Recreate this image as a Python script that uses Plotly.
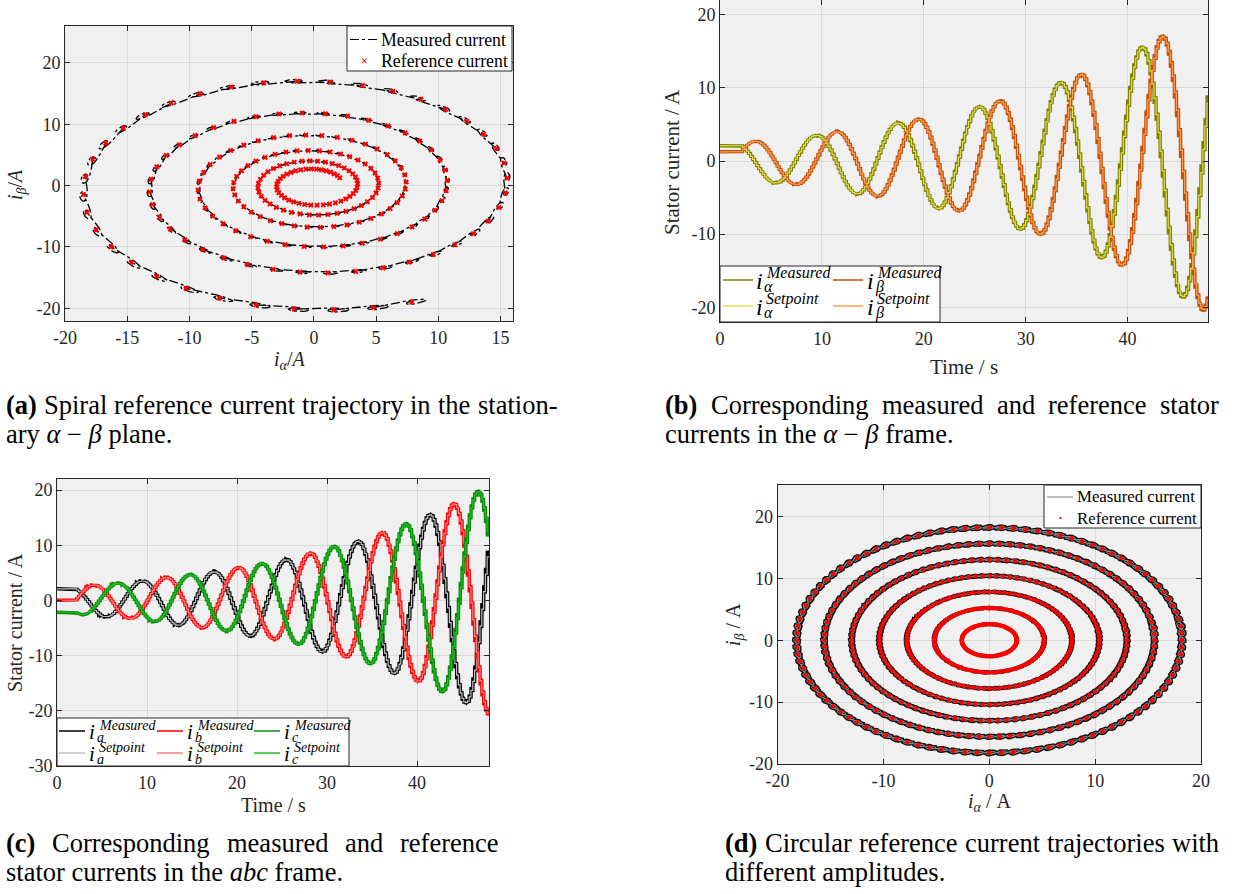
import numpy as np
import plotly.graph_objects as go

W, H = 1236, 894
SERIF = "Liberation Serif"
AX_COLOR = "#262626"

# ---------------- spiral setpoint (panels a, b, c) ----------------
hold_alpha, hold_beta = 2.1, 1.25      # setpoint held before the spiral starts (A)
spiral_start, spiral_end = 2.0, 47.8   # s
sim_end = 48.0
step_period = 0.2                      # setpoint update interval (s)
rev_period = 8.0                       # one revolution (s)
alpha_peak_time = 1.3                  # phase reference: i_alpha maximum (s)

# spiral radius at successive quarter turns (A)
quarter_times = [2.0, 3.3, 5.3, 7.3, 9.3, 11.3, 13.3, 15.3, 17.3, 19.3, 21.3, 23.3,
                 25.3, 27.3, 29.3, 31.3, 33.3, 35.3, 37.3, 39.3, 41.3, 43.3, 45.3, 47.3, 48.0]
quarter_radius = [2.44, 2.7, 3.0, 3.2, 3.5, 4.0, 4.5, 4.8, 5.2, 5.7, 6.5, 6.8,
                  7.4, 8.2, 9.3, 10.0, 10.7, 11.8, 13.2, 14.2, 15.5, 17.0, 18.5, 20.3, 20.7]

# ---------------- circular setpoints (panel d) ----------------
ring_radius = [2.6, 5.2, 7.8, 10.4, 13.0, 15.6, 18.2]
points_per_rev = 100

dt = 0.002


def spiral_setpoint(tt):
    r = np.exp(np.interp(tt, quarter_times, np.log(quarter_radius)))
    th = 2 * np.pi * (tt - alpha_peak_time) / rev_period
    a = np.where(tt < spiral_start, hold_alpha, r * np.cos(th))
    b = np.where(tt < spiral_start, hold_beta, r * np.sin(th))
    return a, b


def track(u, wn, z, phi, h):
    """Cross-coupled second-order current loop following a stepped
    reference u (complex alpha + j*beta)."""
    out = np.empty_like(u)
    gain = wn * wn * np.exp(1j * phi)
    pos, vel = u[0], 0j
    for i, ui in enumerate(u):
        acc = gain * (ui - pos) - 2 * z * wn * vel
        vel += acc * h
        pos += vel * h
        out[i] = pos
    return out


# reference update instants and values
n_steps = int(round((spiral_end - spiral_start) / step_period)) + 1
t_ref = spiral_start + step_period * np.arange(n_steps)
a_ref, b_ref = spiral_setpoint(t_ref)

# stepped reference on the simulation grid
t = np.arange(0.0, sim_end + dt / 2, dt)
idx = np.clip(np.floor((t - spiral_start) / step_period + 1e-9).astype(int), 0, n_steps - 1)
a_set = np.where(t < spiral_start, hold_alpha, a_ref[idx])
b_set = np.where(t < spiral_start, hold_beta, b_ref[idx])
z_meas = track(a_set + 1j * b_set, 150.0, 0.3, 0.15, dt)
a_meas, b_meas = z_meas.real, z_meas.imag

s3 = np.sqrt(3) / 2
abc_set = [a_set, -0.5 * a_set + s3 * b_set, -0.5 * a_set - s3 * b_set]
abc_meas = [a_meas, -0.5 * a_meas + s3 * b_meas, -0.5 * a_meas - s3 * b_meas]

dec = 2
td = t[::dec]

fig = go.Figure()

# ---------------- (a) spiral in the alpha-beta plane ----------------
fig.add_trace(go.Scatter(x=a_meas, y=b_meas, mode="lines", xaxis="x", yaxis="y",
                         line=dict(color="black", width=1.3, dash="dashdot"), showlegend=False))
fig.add_trace(go.Scatter(x=a_ref, y=b_ref, mode="markers", xaxis="x", yaxis="y",
                         marker=dict(symbol="x", size=5, color="red", line=dict(width=0)),
                         showlegend=False))

# ---------------- (b) alpha / beta over time ----------------
ab_colors = [("#7f7f00", "#e0e050"), ("#c0500a", "#ffa050")]
for meas, (cm, cs) in zip([a_meas, b_meas], ab_colors):
    fig.add_trace(go.Scatter(x=td, y=meas[::dec], mode="lines", xaxis="x2", yaxis="y2",
                             line=dict(color=cm, width=3.5), showlegend=False))
for sp, (cm, cs) in zip([a_set, b_set], ab_colors):
    fig.add_trace(go.Scatter(x=td, y=sp[::dec], mode="lines", xaxis="x2", yaxis="y2",
                             line=dict(color=cs, width=1.2), showlegend=False))

# ---------------- (c) abc over time ----------------
abc_colors = [("#000000", "#c0c0c0"), ("#ff0000", "#ff8080"), ("#0a8a0a", "#20c020")]
for k in range(3):
    cm, cs = abc_colors[k]
    fig.add_trace(go.Scatter(x=td, y=abc_meas[k][::dec], mode="lines", xaxis="x3", yaxis="y3",
                             line=dict(color=cm, width=3.5), showlegend=False))
    fig.add_trace(go.Scatter(x=td, y=abc_set[k][::dec], mode="lines", xaxis="x3", yaxis="y3",
                             line=dict(color=cs, width=1.2), showlegend=False))

# ---------------- (d) circular trajectories ----------------
sub = 20
for r in ring_radius:
    ang = 2 * np.pi * np.arange(points_per_rev + 1) / points_per_rev
    ring = r * np.exp(1j * ang)
    m = track(np.repeat(ring, sub), 260.0, 0.2, 0.25, dt)
    fig.add_trace(go.Scatter(x=m.real, y=m.imag, mode="lines", xaxis="x4", yaxis="y4",
                             line=dict(color="#111111", width=3.8), showlegend=False))
    fig.add_trace(go.Scatter(x=m.real, y=m.imag, mode="lines", xaxis="x4", yaxis="y4",
                             line=dict(color="#8c8c8c", width=1), showlegend=False))
for r in ring_radius:
    ang = 2 * np.pi * np.arange(points_per_rev) / points_per_rev
    fig.add_trace(go.Scatter(x=r * np.cos(ang), y=r * np.sin(ang), mode="markers",
                             xaxis="x4", yaxis="y4",
                             marker=dict(symbol="circle", size=4.5, color="red", line=dict(width=0)),
                             showlegend=False))


def px(x):
    return x / W


def py(y):
    return 1 - y / H


def axis(dom, rng, vals, anchor):
    return dict(domain=dom, range=rng, anchor=anchor, showgrid=True, gridcolor="#d9d9d9",
                gridwidth=1, zeroline=False, showline=True, linecolor=AX_COLOR, linewidth=1,
                mirror="allticks", ticks="inside", ticklen=5, tickcolor=AX_COLOR,
                automargin=False, tickvals=vals, ticktext=[str(v) for v in vals],
                tickfont=dict(family=SERIF, size=18, color=AX_COLOR))


fig.update_layout(
    width=W, height=H, margin=dict(l=0, r=0, t=0, b=0, autoexpand=False),
    paper_bgcolor="white", plot_bgcolor="#f0f0f0", showlegend=False,
    xaxis=axis([px(65), px(513)], [-20, 16.0], [-20, -15, -10, -5, 0, 5, 10, 15], "y"),
    yaxis=axis([py(321), py(26)], [-22.07, 26], [-20, -10, 0, 10, 20], "x"),
    xaxis2=axis([px(720), px(1208)], [0, 47.9], [0, 10, 20, 30, 40], "y2"),
    yaxis2=axis([py(322), py(0)], [-22, 22], [-20, -10, 0, 10, 20], "x2"),
    xaxis3=axis([px(57), px(489)], [0, 48], [0, 10, 20, 30, 40], "y3"),
    yaxis3=axis([py(766), py(479)], [-30, 22], [-30, -20, -10, 0, 10, 20], "x3"),
    xaxis4=axis([px(777.6), px(1201)], [-20, 20], [-20, -10, 0, 10, 20], "y4"),
    yaxis4=axis([py(764), py(485)], [-20, 25.07], [-20, -10, 0, 10, 20], "x4"),
)

ann = []
shapes = []


def text(x, y, s, size=20, anchor="center", angle=0, color=AX_COLOR):
    ann.append(dict(x=px(x), y=py(y), xref="paper", yref="paper", text=s, showarrow=False,
                    xanchor=anchor, yanchor="middle", textangle=angle, borderpad=0,
                    font=dict(family=SERIF, size=size, color=color)))


def box(x0, y0, x1, y1):
    shapes.append(dict(type="rect", xref="paper", yref="paper", x0=px(x0), x1=px(x1),
                       y0=py(y1), y1=py(y0), fillcolor="white", layer="above",
                       line=dict(color=AX_COLOR, width=1)))


def sample(x0, x1, y, color, width=1.5, dash="solid"):
    shapes.append(dict(type="line", xref="paper", yref="paper", x0=px(x0), x1=px(x1),
                       y0=py(y), y1=py(y), layer="above",
                       line=dict(color=color, width=width, dash=dash)))


def sym(x, y, sub_s, sup_s, big, small, dy):
    text(x, y + 1, "<i>i</i>", size=big, anchor="left", color="black")
    text(x + 10, y - dy, "<i>" + sup_s + "</i>", size=small, anchor="left", color="black")
    text(x + 8, y + dy, "<i>" + sub_s + "</i>", size=small, anchor="left", color="black")


# Times-compatible advance widths (1/1000 em) for spacing justified caption lines
ADV = {' ': 250, '(': 333, ')': 333, '-': 333, '.': 250, 'a': 444, 'b': 500, 'c': 444,
       'd': 500, 'e': 444, 'f': 333, 'g': 500, 'h': 500, 'i': 278, 'j': 278, 'k': 500,
       'l': 278, 'm': 778, 'n': 500, 'o': 500, 'p': 500, 'q': 500, 'r': 333, 's': 389,
       't': 278, 'u': 500, 'v': 500, 'w': 722, 'x': 500, 'y': 500, 'z': 444, 'C': 667, 'S': 556}
ADV_B = {'(': 333, ')': 333, 'a': 500, 'b': 556, 'c': 444, 'd': 556}


def justify(line, x0, x1, y, size):
    words = line.split(" ")
    widths = []
    for k, w in enumerate(words):
        tab = ADV_B if k == 0 else ADV
        widths.append(sum(tab.get(ch, 500) for ch in w) * size / 1000)
    gap = (x1 - x0 - sum(widths)) / (len(words) - 1)
    x = x0
    for k, (w, wd) in enumerate(zip(words, widths)):
        s = "<b>" + w + "</b>" if k == 0 else w
        text(x, y, s, size=size, anchor="left", color="black")
        x += wd + gap


# axis titles
text(289, 360, "<i>i</i><sub><i>α</i></sub>/<i>A</i>", size=20)
text(16, 185, "<i>i</i><sub><i>β</i></sub>/<i>A</i>", size=20, angle=-90)
text(964, 367, "Time / s", size=21)
text(672, 162, "Stator current / A", size=21, angle=-90)
text(273, 805, "Time / s", size=20)
text(15, 623, "Stator current / A", size=20, angle=-90)
text(989, 802, "<i>i</i><sub><i>α</i></sub> / A", size=20)
text(734, 625, "<i>i</i><sub><i>β</i></sub> / A", size=20, angle=-90)

# legend (a)
box(347, 26, 512, 71)
sample(350, 378, 39.5, "black", 1, "dashdot")
text(380, 39.5, "Measured current", size=17.8, anchor="left", color="black")
text(364, 61, "<b>×</b>", size=12, color="red")
text(380, 61, "Reference current", size=17.8, anchor="left", color="black")

# legend (b)
box(720, 266, 940, 322)
sample(723, 753, 280, "#7f7f00")
sym(755, 280, "α", "Measured", 24, 16, 7)
sample(833, 863, 280, "#c0500a")
sym(866, 280, "β", "Measured", 24, 16, 7)
sample(723, 753, 306, "#e0e050")
sym(755, 306, "α", "Setpoint", 24, 16, 7)
sample(833, 863, 306, "#ffa050")
sym(866, 306, "β", "Setpoint", 24, 16, 7)

# legend (c)
box(57, 718, 349, 766)
for col, (lab, (cm, cs)) in enumerate(zip(["a", "b", "c"], abc_colors)):
    x0 = [59, 157, 254][col]
    sample(x0, x0 + 26, 731, cm)
    sym(x0 + 29, 731, lab, "Measured", 21, 14, 6)
    sample(x0, x0 + 26, 753, cs)
    sym(x0 + 29, 753, lab, "Setpoint", 21, 14, 6)

# legend (d)
box(1044, 485, 1201, 528)
sample(1047, 1073, 497, "#808080", 1)
text(1076, 497, "Measured current", size=16.8, anchor="left", color="black")
text(1060, 518, "•", size=9, color="red")
text(1076, 518, "Reference current", size=16.8, anchor="left", color="black")

# captions
cap = 26.5
justify("(a) Spiral reference current trajectory in the station-", 5, 556, 405, cap)
text(5, 434, "ary <i>α</i> − <i>β</i> plane.", size=cap, anchor="left", color="black")
justify("(b) Corresponding measured and reference stator", 664, 1218, 405, cap)
text(664, 434, "currents in the <i>α</i> − <i>β</i> frame.", size=cap, anchor="left", color="black")
justify("(c) Corresponding measured and reference", 5, 498, 843, cap)
text(5, 872, "stator currents in the <i>abc</i> frame.", size=cap, anchor="left", color="black")
justify("(d) Circular reference current trajectories with", 724, 1218, 843, cap)
text(724, 872, "different amplitudes.", size=cap, anchor="left", color="black")

fig.update_layout(annotations=ann, shapes=shapes)
fig.write_html("out.html")
